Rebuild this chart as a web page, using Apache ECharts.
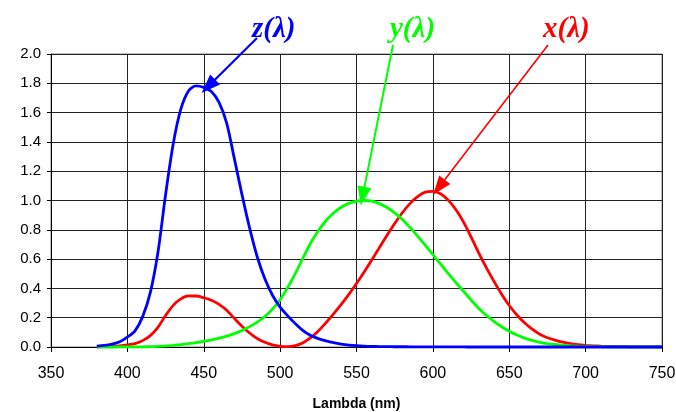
<!DOCTYPE html>
<html>
<head>
<meta charset="utf-8">
<title>CIE colour matching functions</title>
<script src="https://cdn.jsdelivr.net/npm/echarts@6/dist/echarts.min.js"></script>
<style>
  html, body { margin: 0; padding: 0; background: #fff; }
  #chart { width: 676px; height: 412px; }
</style>
</head>
<body>
<div id="chart"></div>
<script>
// wavelength (nm), 5 nm steps
const lambda = [
  380, 385, 390, 395, 400, 405, 410, 415, 420, 425, 430, 435, 440, 445, 450, 455, 460, 465, 470, 475,
  480, 485, 490, 495, 500, 505, 510, 515, 520, 525, 530, 535, 540, 545, 550, 555, 560, 565, 570, 575,
  580, 585, 590, 595, 600, 605, 610, 615, 620, 625, 630, 635, 640, 645, 650, 655, 660, 665, 670, 675,
  680, 685, 690, 695, 700, 705, 710, 715, 720, 725, 730, 735, 740, 745, 750
]
const xBar = [
  0.0014, 0.0022, 0.0042, 0.0077, 0.0143, 0.0232, 0.0435, 0.0776, 0.1344, 0.2148, 0.2839, 0.3285, 0.3483, 0.3481, 0.3362, 0.3187, 0.2908, 0.2511, 0.1954, 0.1421,
  0.0956, 0.0580, 0.0320, 0.0147, 0.0049, 0.0024, 0.0093, 0.0291, 0.0633, 0.1096, 0.1655, 0.2257, 0.2904, 0.3597, 0.4334, 0.5121, 0.5945, 0.6784, 0.7621, 0.8425,
  0.9163, 0.9786, 1.0263, 1.0567, 1.0622, 1.0456, 1.0026, 0.9384, 0.8544, 0.7514, 0.6424, 0.5419, 0.4479, 0.3608, 0.2835, 0.2187, 0.1649, 0.1212, 0.0874, 0.0636,
  0.0468, 0.0329, 0.0227, 0.0158, 0.0114, 0.0081, 0.0058, 0.0041, 0.0029, 0.0020, 0.0014, 0.0010, 0.0007, 0.0005, 0.0003
]
const yBar = [
  0.0000, 0.0001, 0.0001, 0.0002, 0.0004, 0.0006, 0.0012, 0.0022, 0.0040, 0.0073, 0.0116, 0.0168, 0.0230, 0.0298, 0.0380, 0.0480, 0.0600, 0.0739, 0.0910, 0.1126,
  0.1390, 0.1693, 0.2080, 0.2586, 0.3230, 0.4073, 0.5030, 0.6082, 0.7100, 0.7932, 0.8620, 0.9149, 0.9540, 0.9803, 0.9950, 1.0000, 0.9950, 0.9786, 0.9520, 0.9154,
  0.8700, 0.8163, 0.7570, 0.6949, 0.6310, 0.5668, 0.5030, 0.4412, 0.3810, 0.3210, 0.2650, 0.2170, 0.1750, 0.1382, 0.1070, 0.0816, 0.0610, 0.0446, 0.0320, 0.0232,
  0.0170, 0.0119, 0.0082, 0.0057, 0.0041, 0.0029, 0.0021, 0.0015, 0.0010, 0.0007, 0.0005, 0.0004, 0.0002, 0.0002, 0.0001
]
const zBar = [
  0.0065, 0.0106, 0.0201, 0.0362, 0.0679, 0.1102, 0.2074, 0.3713, 0.6456, 1.0391, 1.3856, 1.6230, 1.7471, 1.7826, 1.7721, 1.7441, 1.6692, 1.5281, 1.2876, 1.0419,
  0.8130, 0.6162, 0.4652, 0.3533, 0.2720, 0.2123, 0.1582, 0.1117, 0.0783, 0.0573, 0.0422, 0.0298, 0.0203, 0.0134, 0.0088, 0.0058, 0.0039, 0.0028, 0.0021, 0.0018,
  0.0017, 0.0014, 0.0011, 0.0010, 0.0008, 0.0006, 0.0003, 0.0002, 0.0002, 0.0001, 0.0001, 0.0000, 0.0000, 0.0000, 0.0000, 0.0000, 0.0000, 0.0000, 0.0000, 0.0000,
  0.0000, 0.0000, 0.0000, 0.0000, 0.0000, 0.0000, 0.0000, 0.0000, 0.0000, 0.0000, 0.0000, 0.0000, 0.0000, 0.0000, 0.0000
]
const xTicks = [350, 750, 50]
const yTicks = [0, 2, 0.2]

const chartDom = document.getElementById('chart')
const chart = echarts.init(chartDom, null, { renderer: 'canvas' })

const pairs = arr => lambda.map((l, i) => [l, arr[i]])

// arrow from label (pixel) to a point on the curve (data coords)
function arrow(from, to, color, width) {
  return {
    silent: true,
    symbol: ['none', 'triangle'],
    symbolSize: [14, 19],
    lineStyle: { color: color, width: width, type: 'solid' },
    label: { show: false },
    emphasis: { disabled: true },
    data: [[{ x: from[0], y: from[1] }, { coord: to }]]
  }
}

function curve(name, arr, color, markLine) {
  return {
    name: name,
    type: 'line',
    data: pairs(arr),
    showSymbol: false,
    smooth: 0.3,
    lineStyle: { color: color, width: 2.8 },
    itemStyle: { color: color },
    clip: false,
    markLine: markLine
  }
}

const labelFont = 'bold italic 29px "Liberation Serif", "Times New Roman", serif'

const option = {
  animation: false,
  backgroundColor: '#fff',
  grid: {
    left: 51, right: 14, top: 54, bottom: 65,
    outerBoundsMode: 'none',
    show: true, borderColor: '#808080', borderWidth: 1, backgroundColor: 'transparent'
  },
  xAxis: {
    type: 'value',
    min: xTicks[0], max: xTicks[1], interval: xTicks[2],
    name: 'Lambda (nm)',
    nameLocation: 'middle',
    nameGap: 50,
    nameTextStyle: { fontFamily: 'Liberation Sans', fontWeight: 'bold', fontSize: 14, color: '#000' },
    axisLine: { lineStyle: { color: '#000', width: 1 } },
    axisTick: { show: true, length: 5, lineStyle: { color: '#000' } },
    axisLabel: { margin: 19, fontFamily: 'Liberation Sans', fontSize: 16, color: '#000' },
    splitLine: { show: true, lineStyle: { color: '#222', width: 1 } }
  },
  yAxis: {
    type: 'value',
    min: yTicks[0], max: yTicks[1], interval: yTicks[2],
    axisLine: { show: true, lineStyle: { color: '#000', width: 1 } },
    axisTick: { show: true, length: 4, lineStyle: { color: '#000' } },
    axisLabel: {
      margin: 10, fontFamily: 'Liberation Sans', fontSize: 15, color: '#000',
      formatter: v => v.toFixed(1)
    },
    splitLine: { show: true, lineStyle: { color: '#222', width: 1 } }
  },
  series: [
    curve('x', xBar, '#ff0000', arrow([548, 45], [604, 1.09], '#ff0000', 1.6)),
    curve('y', yBar, '#00ff00', arrow([393, 45], [554, 1.03], '#00ff00', 2)),
    curve('z', zBar, '#0000ff', arrow([257, 38], [453, 1.78], '#0000ff', 2.2))
  ],
  graphic: [
    { type: 'text', left: 252, top: 15, style: { text: 'z(λ)', font: labelFont, fill: '#0000ff' } },
    { type: 'text', left: 390, top: 15, style: { text: 'y(λ)', font: labelFont, fill: '#00ff00' } },
    { type: 'text', left: 543, top: 15, style: { text: 'x(λ)', font: labelFont, fill: '#ff0000' } }
  ]
}

chart.setOption(option)
window.addEventListener('resize', () => chart.resize())
</script>
</body>
</html>
